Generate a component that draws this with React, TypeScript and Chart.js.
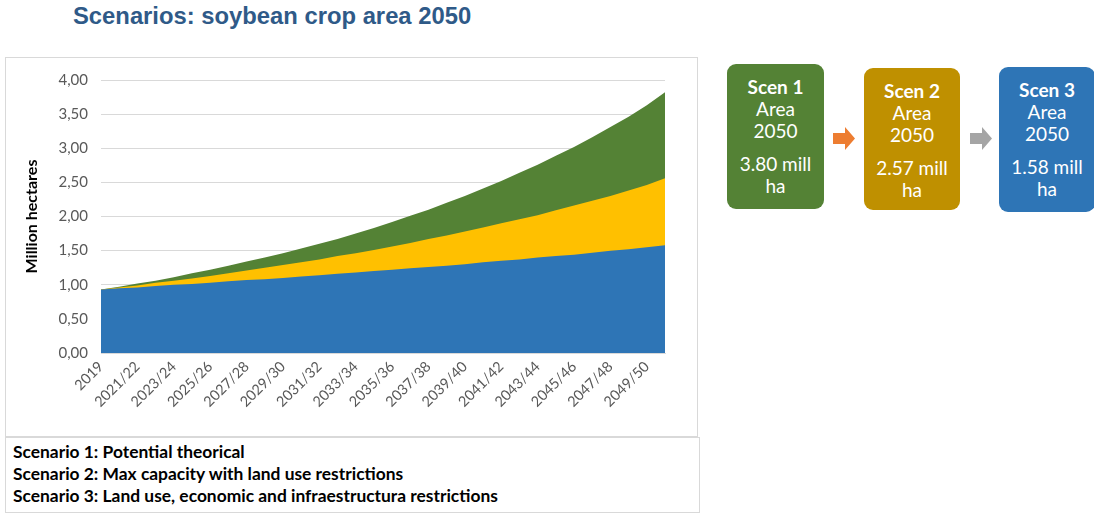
import React, { useEffect, useRef } from "react";
import { Chart, registerables } from "chart.js";

Chart.register(...registerables);

const categories: string[] = [
  "2019", "2020/21", "2021/22", "2022/23", "2023/24", "2024/25", "2025/26", "2026/27",
  "2027/28", "2028/29", "2029/30", "2030/31", "2031/32", "2032/33", "2033/34", "2034/35",
  "2035/36", "2036/37", "2037/38", "2038/39", "2039/40", "2040/41", "2041/42", "2042/43",
  "2043/44", "2044/45", "2045/46", "2046/47", "2047/48", "2048/49", "2049/50", "2050/51",
];

const scen1: number[] = [
  0.93, 0.97, 1.02, 1.06, 1.11, 1.17, 1.22, 1.28, 1.34, 1.40, 1.46, 1.53, 1.60, 1.67, 1.75, 1.83,
  1.92, 2.01, 2.10, 2.20, 2.30, 2.41, 2.52, 2.64, 2.76, 2.89, 3.02, 3.16, 3.31, 3.46, 3.63, 3.82,
];
const scen2: number[] = [
  0.93, 0.96, 0.99, 1.03, 1.06, 1.09, 1.13, 1.17, 1.21, 1.25, 1.29, 1.33, 1.37, 1.42, 1.46, 1.51,
  1.56, 1.61, 1.67, 1.72, 1.78, 1.84, 1.90, 1.96, 2.02, 2.09, 2.16, 2.23, 2.30, 2.38, 2.46, 2.56,
];
const scen3: number[] = [
  0.93, 0.95, 0.96, 0.98, 1.00, 1.01, 1.03, 1.05, 1.07, 1.08, 1.10, 1.12, 1.14, 1.16, 1.18, 1.20,
  1.22, 1.24, 1.26, 1.28, 1.30, 1.33, 1.35, 1.37, 1.40, 1.42, 1.44, 1.47, 1.50, 1.52, 1.55, 1.58,
];

const yTicks: number[] = [0, 0.5, 1, 1.5, 2, 2.5, 3, 3.5, 4];

const scenarioNotes: string[] = [
  "Scenario 1: Potential theorical",
  "Scenario 2: Max capacity with land use restrictions",
  "Scenario 3: Land use, economic and infraestructura restrictions",
];

const boxes = [
  { title: "Scen 1", value: "3.80 mill", color: "#548235", left: 727, top: 64, width: 97, height: 145 },
  { title: "Scen 2", value: "2.57 mill", color: "#BF9000", left: 864, top: 68, width: 96, height: 142 },
  { title: "Scen 3", value: "1.58 mill", color: "#2E75B6", left: 999, top: 67, width: 96, height: 145 },
];

const CAL = "Lato, 'Noto Sans', sans-serif";

function Arrow({ left, color }: { left: number; color: string }) {
  return (
    <svg
      style={{ position: "absolute", left, top: 127 }}
      width={22}
      height={23}
      viewBox="0 0 22 23"
    >
      <polygon points="0,6 12,6 12,0 22,11.5 12,23 12,17 0,17" fill={color} />
    </svg>
  );
}

export default function App() {
  const canvasRef = useRef<HTMLCanvasElement | null>(null);

  useEffect(() => {
    const canvas = canvasRef.current;
    if (!canvas) return;
    const chart = new Chart(canvas, {
      type: "line",
      data: {
        labels: categories,
        datasets: [
          { label: "Scen 3", data: scen3, backgroundColor: "#2E75B6", borderWidth: 0, pointRadius: 0, fill: "origin" },
          { label: "Scen 2", data: scen2, backgroundColor: "#FFC000", borderWidth: 0, pointRadius: 0, fill: "origin" },
          { label: "Scen 1", data: scen1, backgroundColor: "#548235", borderWidth: 0, pointRadius: 0, fill: "origin" },
        ],
      },
      options: {
        animation: false,
        responsive: false,
        maintainAspectRatio: false,
        layout: { padding: { top: 12, right: 33, left: 0, bottom: 0 } },
        plugins: { legend: { display: false }, tooltip: { enabled: false } },
        scales: {
          x: {
            offset: false,
            grid: { display: false, drawTicks: false },
            border: { display: true, color: "#d9d9d9" },
            ticks: {
              autoSkip: false,
              maxRotation: 45,
              minRotation: 45,
              padding: 5,
              color: "#595959",
              font: { family: CAL, size: 14.5 },
              callback: (_v: any, i: number) => (i % 2 === 0 ? categories[i] : ""),
            },
            afterFit: (s: any) => {
              s.height = 84;
            },
          },
          y: {
            min: 0,
            max: 4,
            afterBuildTicks: (s: any) => {
              s.ticks = yTicks.map((v) => ({ value: v }));
            },
            grid: { color: "#d9d9d9", drawTicks: false },
            border: { display: false },
            ticks: {
              padding: 13,
              color: "#595959",
              font: { family: CAL, size: 15 },
              callback: (v: any) => Number(v).toFixed(2).replace(".", ","),
            },
            title: {
              display: true,
              text: "Million hectares",
              color: "#000000",
              font: { family: CAL, size: 16, weight: "bold" },
              padding: { top: 14, bottom: 0 },
            },
            afterFit: (s: any) => {
              s.width = 93;
            },
          },
        },
      },
    });
    return () => chart.destroy();
  }, []);

  return (
    <div style={{ position: "absolute", left: 0, top: 0, width: 1094, height: 514, background: "#fff", overflow: "hidden" }}>
      <div
        style={{
          position: "absolute",
          left: 73,
          top: 2,
          fontFamily: "'Liberation Sans', Arial, sans-serif",
          fontWeight: "bold",
          fontSize: 23.8,
          color: "#2F5A88",
          whiteSpace: "nowrap",
        }}
      >
        Scenarios: soybean crop area 2050
      </div>

      <div style={{ position: "absolute", left: 5, top: 57, width: 693, height: 380, border: "1px solid #d9d9d9", boxSizing: "border-box" }} />
      <canvas
        ref={canvasRef}
        width={690}
        height={379}
        style={{ position: "absolute", left: 8, top: 58, width: 690, height: 379 }}
      />

      <div
        style={{
          position: "absolute",
          left: 5,
          top: 437,
          width: 695,
          height: 76,
          border: "1px solid #d9d9d9",
          boxSizing: "border-box",
          padding: "3px 0 0 7px",
          fontFamily: CAL,
          fontWeight: "bold",
          fontSize: 17.4,
          lineHeight: "22px",
          color: "#000",
        }}
      >
        {scenarioNotes.map((t) => (
          <div key={t} style={{ whiteSpace: "nowrap" }}>{t}</div>
        ))}
      </div>

      {boxes.map((b) => (
        <div
          key={b.title}
          style={{
            position: "absolute",
            left: b.left,
            top: b.top,
            width: b.width,
            height: b.height,
            background: b.color,
            borderRadius: 9,
            color: "#fff",
            fontFamily: CAL,
            textAlign: "center",
            fontSize: 19,
            lineHeight: "22px",
            paddingTop: 12,
            boxSizing: "border-box",
          }}
        >
          <div style={{ fontWeight: "bold" }}>{b.title}</div>
          <div>Area</div>
          <div>2050</div>
          <div style={{ marginTop: 11 }}>{b.value}</div>
          <div>ha</div>
        </div>
      ))}

      <Arrow left={833} color="#ED7D31" />
      <Arrow left={970} color="#A5A5A5" />
    </div>
  );
}
